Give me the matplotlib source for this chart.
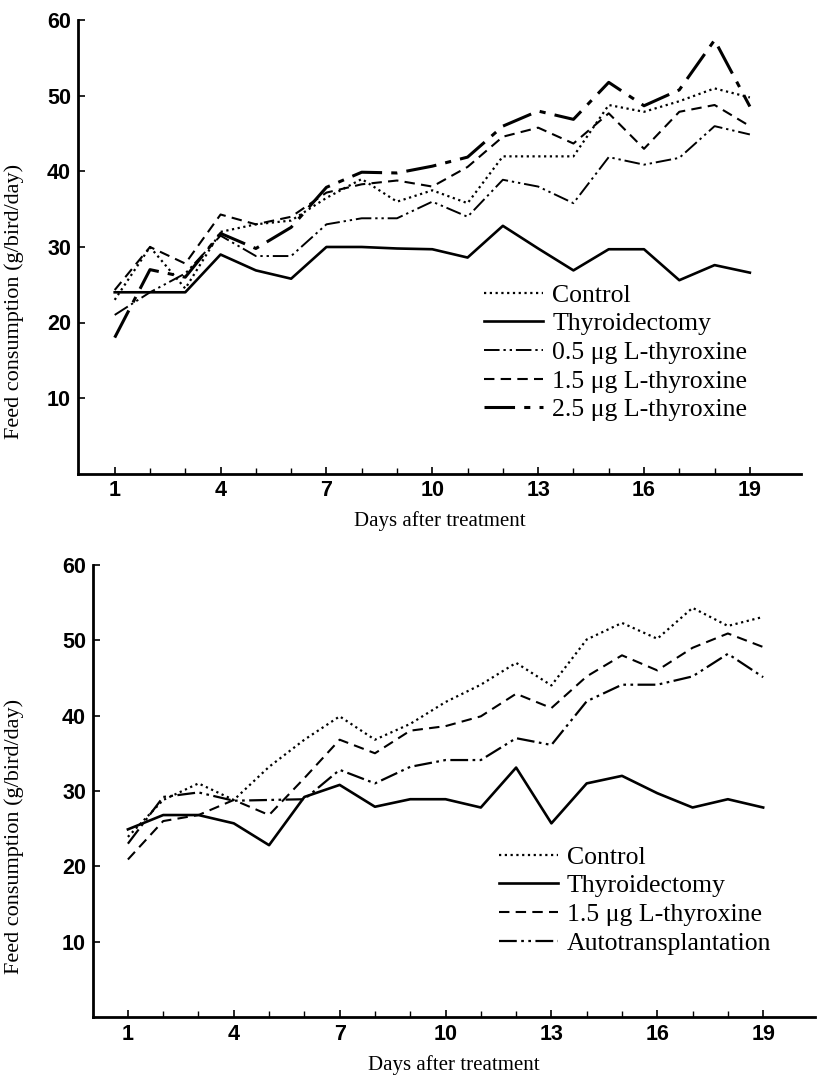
import matplotlib
matplotlib.use("Agg")
import matplotlib.pyplot as plt
import numpy as np

# data (feed consumption, g/bird/day)
days = np.arange(1, 20)

top_control = [23, 30, 24.5, 32, 33, 33.5, 36.5, 39, 36, 37.5, 35.8, 42, 42, 42, 48.8, 47.9, 49.3, 51, 49.8]
top_thyroid = [24, 24, 24, 29, 26.9, 25.8, 30, 30, 29.8, 29.7, 28.6, 32.8, 29.8, 26.9, 29.7, 29.7, 25.6, 27.6, 26.6]
top_05 = [21, 24, 26.5, 31.5, 28.8, 28.8, 33, 33.8, 33.8, 36, 34, 38.9, 38, 35.8, 41.9, 40.9, 41.8, 46, 44.9]
top_15 = [24.3, 30, 27.8, 34.3, 33, 34, 37.2, 38.3, 38.8, 38, 40.6, 44.6, 45.8, 43.7, 47.7, 43, 47.9, 48.8, 46]
top_25 = [18, 27, 26, 31.8, 29.8, 32.6, 37.9, 39.9, 39.8, 40.7, 41.9, 46, 48, 46.9, 51.8, 48.7, 50.8, 57.4, 48.6]

bot_control = [23.9, 28.8, 31, 28.8, 33.2, 36.8, 39.9, 36.8, 38.9, 41.8, 44.1, 47, 44, 50.1, 52.3, 50.2, 54.3, 51.9, 53.1]
bot_thyroid = [24.9, 26.8, 26.8, 25.7, 22.8, 29.2, 30.8, 27.9, 28.9, 28.9, 27.8, 33.1, 25.7, 31, 32, 29.7, 27.8, 28.9, 27.8]
bot_15 = [20.9, 26, 26.8, 28.8, 26.8, 31.7, 36.8, 35, 38, 38.6, 39.9, 42.9, 41, 45.2, 48, 46, 49, 50.9, 49.1]
bot_auto = [23, 29.2, 29.8, 28.7, 28.8, 28.9, 32.8, 31, 33.2, 34.1, 34.1, 37, 36.1, 41.9, 44.1, 44.1, 45.2, 48.2, 45.1]

xticks = [1, 4, 7, 10, 13, 16, 19]
yticks = [10, 20, 30, 40, 50, 60]

SERIF = ["Liberation Serif", "DejaVu Serif"]
TICKFONT = ["Liberation Sans Narrow", "Liberation Sans", "DejaVu Sans"]

DOT = (0, (1, 1.6))
DASH = (0, (5, 3))
DASHDOTDOT = (0, (8, 2, 1.2, 2, 1.2, 2))
LONGDASHDOT = (0, (10, 3, 2, 3))

fig = plt.figure(figsize=(8.22, 10.75), dpi=100)


def style_axes(ax, xlim):
    ax.set_xlim(*xlim)
    ax.set_ylim(0, 60)
    for side in ("top", "right"):
        ax.spines[side].set_visible(False)
    for side in ("left", "bottom"):
        ax.spines[side].set_linewidth(2)
    ax.set_xticks(xticks)
    ax.set_xticks(days, minor=True)
    ax.set_yticks(yticks)
    ax.tick_params(direction="in", length=5, width=1.2, pad=5)
    ax.tick_params(axis="x", which="minor", direction="in", length=4, width=1)
    for lab in ax.get_xticklabels() + ax.get_yticklabels():
        lab.set_family(TICKFONT)
        lab.set_fontweight("bold")
        lab.set_fontsize(15.5)
    ax.set_xlabel("Days after treatment", family=SERIF, fontsize=15, labelpad=7)
    ax.set_ylabel("Feed consumption (g/bird/day)", family=SERIF, fontsize=16)


legend_kw = dict(loc="upper left", frameon=False, prop={"family": SERIF, "size": 18.5},
                 handlelength=2.3, labelspacing=0.22, handletextpad=0.35)

# top panel
ax1 = fig.add_axes([0.0949, 0.5595, 0.8796, 0.4215])
ax1.plot(days, top_control, color="k", lw=1.6, ls=DOT, label="Control")
ax1.plot(days, top_thyroid, color="k", lw=1.9, label="Thyroidectomy")
ax1.plot(days, top_05, color="k", lw=1.4, ls=DASHDOTDOT, label="0.5 \u03bcg L-thyroxine")
ax1.plot(days, top_15, color="k", lw=1.5, ls=DASH, label="1.5 \u03bcg L-thyroxine")
ax1.plot(days, top_25, color="k", lw=2.2, ls=LONGDASHDOT, label="2.5 \u03bcg L-thyroxine")
style_axes(ax1, (-0.04, 20.45))
ax1.yaxis.set_label_coords(-0.075, 0.38)
ax1.legend(bbox_to_anchor=(0.53, 0.47), **legend_kw)

# bottom panel
ax2 = fig.add_axes([0.1131, 0.054, 0.878, 0.4205])
ax2.plot(days, bot_control, color="k", lw=1.6, ls=DOT, label="Control")
ax2.plot(days, bot_thyroid, color="k", lw=1.9, label="Thyroidectomy")
ax2.plot(days, bot_15, color="k", lw=1.5, ls=DASH, label="1.5 \u03bcg L-thyroxine")
ax2.plot(days, bot_auto, color="k", lw=1.6, ls=DASHDOTDOT, label="Autotransplantation")
style_axes(ax2, (0.01, 20.46))
ax2.yaxis.set_label_coords(-0.095, 0.40)
ax2.legend(bbox_to_anchor=(0.53, 0.43), **legend_kw)

fig.savefig("out.png", dpi=100)
